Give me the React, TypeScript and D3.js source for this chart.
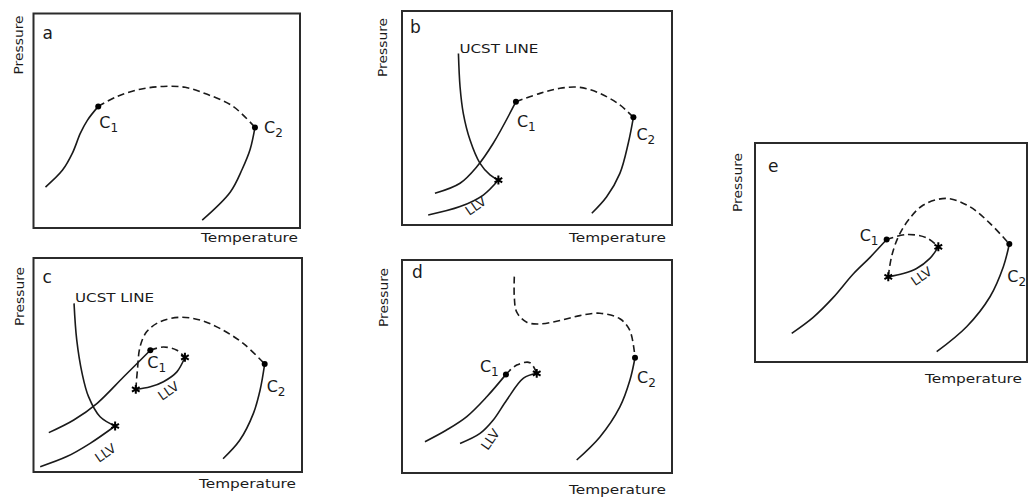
import * as d3 from 'd3';
import React from 'react';

type Pt = [number, number];

// values: [temperature, pressure], both 0..100 inside each frame

// a
const aVap1: Pt[] = [[4.5, 19.1], [10.9, 27], [14.6, 34.9], [17.6, 44.2], [20.2, 50.2], [24.3, 56.7]];
const aCritLine: Pt[] = [[24.3, 56.7], [31.5, 61.4], [40.1, 64.7], [48.7, 66], [56.9, 65.6], [65.2, 62.3], [74.9, 56.7], [83.1, 46.9]];
const aVap2: Pt[] = [[83.1, 46.9], [81.3, 36.7], [78.3, 27.4], [73.8, 16.7], [63.3, 3.7]];
const aCrit: Pt[] = [[24.3, 56.7], [83.1, 46.9]];

// b
const bUcst: Pt[] = [[20.9, 80.1], [21.5, 64.6], [22.7, 52.2], [25.2, 39.7], [28.9, 28.8], [32.6, 23.4], [35.7, 21]];
const bVap1: Pt[] = [[12.2, 14.8], [21.5, 19.5], [27.7, 27.2], [33.8, 38.2], [42.2, 57.6]];
const bLlv: Pt[] = [[9.7, 4.7], [21.5, 8.6], [30.1, 14], [35.7, 21]];
const bCritLine: Pt[] = [[42.2, 57.6], [51.1, 61.5], [58.5, 63.9], [65.9, 64.3], [73.3, 61.5], [80.7, 56.1], [85.7, 50.3]];
const bVap2: Pt[] = [[85.7, 50.3], [83.8, 38.2], [80.7, 24.1], [75.8, 13.2], [70.3, 5.5]];
const bCrit: Pt[] = [[42.2, 57.6], [85.7, 50.3]];
const bStars: Pt[] = [[35.7, 21]];

// c
const cUcst: Pt[] = [[15.1, 78.8], [16.1, 61.7], [18.1, 46.1], [20.5, 35.2], [24.8, 25.8], [30.4, 21.5]];
const cVap1: Pt[] = [[5.7, 18.4], [15, 24.3], [23.7, 32.1], [33.6, 44.5], [43.5, 56.9]];
const cLlv: Pt[] = [[2.5, 2.5], [12.4, 7.2], [21.1, 13.4], [30.4, 21.5]];
const cLlvLoop: Pt[] = [[38.1, 38.6], [43.5, 39.8], [48.4, 42.2], [53.4, 46.8], [56.4, 53.6]];
const cLoopTop: Pt[] = [[43.5, 56.9], [48.4, 58.4], [53.4, 56.9], [56.4, 53.6]];
const cCritLine: Pt[] = [[38.1, 38.6], [38.7, 47.6], [39.7, 58.6], [42.2, 65.6], [47.1, 70.2], [54.5, 72.3], [62, 71], [69.4, 67.1], [78.1, 60.1], [86.1, 50.5]];
const cVap2: Pt[] = [[86.1, 50.5], [84.4, 38.3], [81.9, 27.4], [76.8, 14.8], [70.6, 6.2]];
const cCrit: Pt[] = [[43.5, 56.9], [86.1, 50.5]];
const cStars: Pt[] = [[30.4, 21.5], [38.1, 38.6], [56.4, 53.6]];

// d
const dVap1: Pt[] = [[8.5, 14.7], [16.5, 20.2], [24, 26.5], [31.4, 35.8], [38.5, 46.3]];
const dLlv: Pt[] = [[21.5, 13.9], [28.9, 18.6], [33.8, 24.9], [38.8, 34.3], [45, 44.5], [49.9, 46.8]];
const dLoopTop: Pt[] = [[38.5, 46.3], [42.5, 50.7], [47.4, 51.8], [49.9, 46.8]];
const dCritLine: Pt[] = [[41.6, 92.2], [41.6, 82.5], [42.5, 75.5], [46.2, 70.8], [51.1, 70], [58.5, 71.6], [65.9, 73.9], [73.3, 75], [80.7, 72.4], [84.4, 66.9], [86.3, 54.1]];
const dVap2: Pt[] = [[86.3, 54.1], [84.4, 43.5], [80.7, 31], [73.3, 16.9], [64.7, 6.1]];
const dCrit: Pt[] = [[38.5, 46.3], [86.3, 54.1]];
const dStars: Pt[] = [[49.9, 46.8]];

// e
const eVap1: Pt[] = [[13.5, 13.1], [21.4, 20.4], [28.8, 29.5], [36.1, 40.2], [42.3, 47.8], [48.4, 55.9]];
const eLlvLoop: Pt[] = [[49, 38.9], [54.5, 40.4], [59.4, 42.7], [64.3, 47.3], [67.4, 52.6]];
const eLoopTop: Pt[] = [[48.4, 55.9], [55.8, 58.2], [63.1, 56.7], [67.4, 52.6]];
const eCritLine: Pt[] = [[49, 38.9], [50.2, 48.1], [52.7, 57.2], [56.4, 64.8], [61.9, 71.7], [70.5, 74.7], [79, 70.9], [86.4, 63.3], [93.5, 53.9]];
const eVap2: Pt[] = [[93.5, 53.9], [91.3, 43.5], [86.4, 29.8], [77.8, 16.1], [66.8, 4.7]];
const eCrit: Pt[] = [[48.4, 55.9], [93.5, 53.9]];
const eStars: Pt[] = [[49, 38.9], [67.4, 52.6]];

const panels = [
  {
    id: 'a', box: [33.5, 13.5, 300, 228], solid: [aVap1, aVap2], dashed: [aCritLine], crit: aCrit, stars: [] as Pt[],
    letter: [9, 25], pres: [-11, 2], temp: [-2, 14], c1: [1, 22], c2: [9, 6], ucst: null as Pt | null, llv: [] as { at: Pt; rot: number }[],
  },
  {
    id: 'b', box: [402, 11, 672, 225], solid: [bUcst, bVap1, bLlv, bVap2], dashed: [bCritLine], crit: bCrit, stars: bStars,
    letter: [8, 22], pres: [-15, 7], temp: [-6, 17], c1: [1, 25], c2: [3, 23], ucst: bUcst[0], llv: [{ at: [27.5, 8.5] as Pt, rot: -35 }],
  },
  {
    id: 'c', box: [33.5, 258, 302, 472], solid: [cUcst, cVap1, cLlv, cLlvLoop, cVap2], dashed: [cLoopTop, cCritLine], crit: cCrit, stars: cStars,
    letter: [9, 25], pres: [-10, 9], temp: [-6, 16], c1: [-3, 18], c2: [2, 28], ucst: cUcst[0],
    llv: [{ at: [27, 8.5] as Pt, rot: -35 }, { at: [50.5, 37.5] as Pt, rot: -35 }],
  },
  {
    id: 'd', box: [402, 260, 672, 473], solid: [dVap1, dLlv, dVap2], dashed: [dLoopTop, dCritLine], crit: dCrit, stars: dStars,
    letter: [10, 18], pres: [-14, 8], temp: [-6, 21], c1: [-26, -2], c2: [2, 25], ucst: null as Pt | null,
    llv: [{ at: [33, 15.5] as Pt, rot: -55 }],
  },
  {
    id: 'e', box: [755, 143, 1027, 362], solid: [eVap1, eLlvLoop, eVap2], dashed: [eLoopTop, eCritLine], crit: eCrit, stars: eStars,
    letter: [13, 29], pres: [-13, 10], temp: [-5, 21], c1: [-27, 1], c2: [-2, 38], ucst: null as Pt | null,
    llv: [{ at: [61.4, 38.8] as Pt, rot: -35 }],
  },
];

const ink = '#1a1a1a';
const font = 'DejaVu Sans, Verdana, sans-serif';

const CLabel = ({ x, y, sub }: { x: number; y: number; sub: string }) => (
  <text x={x} y={y} fontSize={16} fill={ink} fontFamily={font}>
    C<tspan fontSize={12} dy={4}>{sub}</tspan>
  </text>
);

const Panel = ({ p }: { p: (typeof panels)[number] }) => {
  const [x0, y0, x1, y1] = p.box;
  const x = d3.scaleLinear().domain([0, 100]).range([x0, x1]);
  const y = d3.scaleLinear().domain([0, 100]).range([y1, y0]);
  const line = d3.line<Pt>().x(d => x(d[0])).y(d => y(d[1])).curve(d3.curveCatmullRom.alpha(0.5));
  const star = d3.symbol().type(d3.symbolAsterisk).size(55);
  const [c1, c2] = p.crit;

  return (
    <g>
      <rect x={x0} y={y0} width={x1 - x0} height={y1 - y0} fill="none" stroke="#2b2b2b" strokeWidth={2} />
      <text x={x0 + p.letter[0]} y={y0 + p.letter[1]} fontSize={17} fill={ink} fontFamily={font}>{p.id}</text>
      <text transform={`translate(${x0 + p.pres[0]},${y0 + p.pres[1]}) rotate(-90)`} textAnchor="end"
        fontSize={13} fill={ink} fontFamily={font} textLength={59} lengthAdjust="spacingAndGlyphs">Pressure</text>
      <text x={x1 + p.temp[0]} y={y1 + p.temp[1]} textAnchor="end" fontSize={13} fill={ink} fontFamily={font}
        textLength={97} lengthAdjust="spacingAndGlyphs">Temperature</text>

      {p.solid.map((s, i) => <path key={'s' + i} d={line(s) || ''} fill="none" stroke={ink} strokeWidth={1.6} />)}
      {p.dashed.map((s, i) => <path key={'d' + i} d={line(s) || ''} fill="none" stroke={ink} strokeWidth={1.6} strokeDasharray="7,4" />)}

      {p.crit.map((c, i) => <circle key={'c' + i} cx={x(c[0])} cy={y(c[1])} r={3} fill="#000" />)}
      {p.stars.map((s, i) => (
        <path key={'t' + i} d={star() || ''} transform={`translate(${x(s[0])},${y(s[1])})`} fill="none" stroke="#000" strokeWidth={2} />
      ))}

      <CLabel x={x(c1[0]) + p.c1[0]} y={y(c1[1]) + p.c1[1]} sub="1" />
      <CLabel x={x(c2[0]) + p.c2[0]} y={y(c2[1]) + p.c2[1]} sub="2" />

      {p.ucst && (
        <text x={x(p.ucst[0]) + 1} y={y(p.ucst[1]) - 1} fontSize={12} fill={ink} fontFamily={font}
          textLength={79} lengthAdjust="spacingAndGlyphs">UCST LINE</text>
      )}
      {p.llv.map((l, i) => (
        <text key={'l' + i} transform={`translate(${x(l.at[0])},${y(l.at[1])}) rotate(${l.rot})`} textAnchor="middle"
          dominantBaseline="middle" fontSize={13} fill={ink} fontFamily={font}>LLV</text>
      ))}
    </g>
  );
};

export default function App() {
  return (
    <svg width={1029} height={498} style={{ position: 'absolute', left: 0, top: 0, background: '#fff' }}>
      <rect width={1029} height={498} fill="#fff" />
      {panels.map(p => <Panel key={p.id} p={p} />)}
    </svg>
  );
}
